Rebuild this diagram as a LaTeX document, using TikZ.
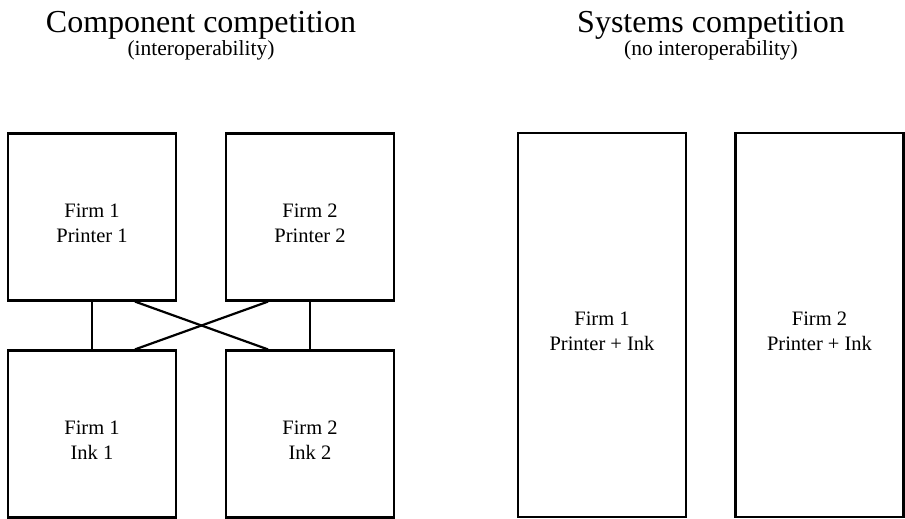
\documentclass[tikz,border=0pt]{standalone}
\usepackage{fontspec}
\setmainfont{Liberation Serif}
\tikzset{
    firmbox/.style={draw, line width=2.2pt, minimum width=168pt, minimum height=167pt, inner sep=0pt},
    sysbox/.style={firmbox, minimum height=384pt},
    boxtext/.style={align=center, inner sep=0pt, font=\fontsize{20.5}{25}\selectfont},
    heading/.style={anchor=base, font=\fontsize{32}{38}\selectfont},
    subheading/.style={anchor=base, font=\fontsize{21.5}{26}\selectfont},
    link/.style={line width=2.2pt}
}
\begin{document}
\begin{tikzpicture}[x=1pt, y=-1pt]
    \useasboundingbox (0, 0) rectangle (905, 519);
    %%the headings
    \node[heading] (comp) at (201, 33){Component competition};
    \node[subheading] (compsub) at (201, 56){(interoperability)};
    \node[heading] (sys) at (711, 33){Systems competition};
    \node[subheading] (syssub) at (711, 56){(no interoperability)};

    %%component boxes
    \node[firmbox] (pr1) at (92, 217){};
        \node[boxtext] (pr1txt) at ([yshift=-6pt]pr1.center){Firm 1\\Printer 1};
    \node[firmbox] (pr2) at (310, 217){};
        \node[boxtext] (pr2txt) at ([yshift=-6pt]pr2.center){Firm 2\\Printer 2};
    \node[firmbox] (ink1) at (92, 434){};
        \node[boxtext] (ink1txt) at ([yshift=-6pt]ink1.center){Firm 1\\Ink 1};
    \node[firmbox] (ink2) at (310, 434){};
        \node[boxtext] (ink2txt) at ([yshift=-6pt]ink2.center){Firm 2\\Ink 2};

    %%the links
    \draw[link] (pr1) to (ink1);
    \draw[link] (pr2) to (ink2);
    \draw[link] ([xshift=43pt]pr1.south) to ([xshift=-42pt]ink2.north);
    \draw[link] ([xshift=-42pt]pr2.south) to ([xshift=43pt]ink1.north);

    %%system boxes
    \node[sysbox] (sys1) at (602, 325){};
        \node[boxtext] (sys1txt) at ([yshift=-6pt]sys1.center){Firm 1\\Printer + Ink};
    \node[sysbox] (sys2) at (819.5, 325){};
        \node[boxtext] (sys2txt) at ([yshift=-6pt]sys2.center){Firm 2\\Printer + Ink};
\end{tikzpicture}
\end{document}
